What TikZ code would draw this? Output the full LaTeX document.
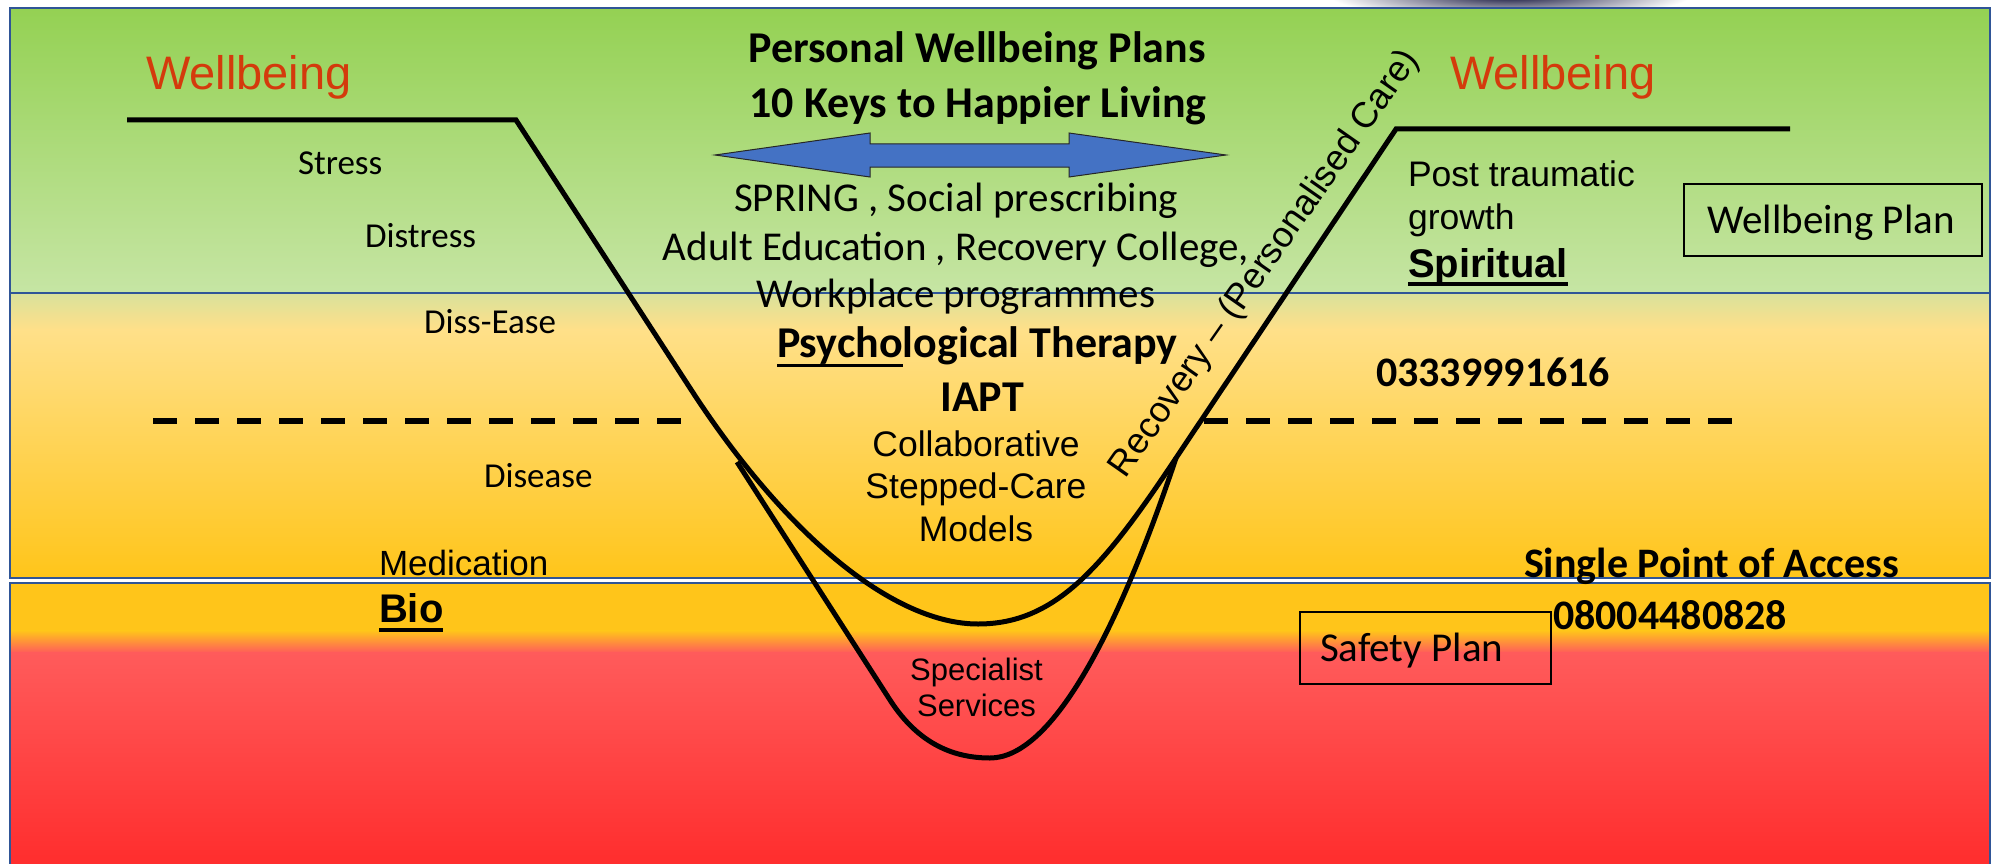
\documentclass[tikz,border=0pt]{standalone}
\usepackage{fontspec}
\setmainfont{Carlito}
\newfontfamily\arialf{Liberation Sans}
\definecolor{bandblue}{HTML}{2F5597}
\definecolor{gtop}{HTML}{94D153}
\definecolor{gbot}{HTML}{C6E5A4}
\definecolor{ytop}{HTML}{D9E19B}
\definecolor{ylight}{HTML}{FFE089}
\definecolor{ygold}{HTML}{FFC51A}
\definecolor{rsalmon}{HTML}{FF5B5B}
\definecolor{rred}{HTML}{FF2A2A}
\definecolor{wbred}{HTML}{D43A0C}
\definecolor{arrowblue}{HTML}{4472C4}
\definecolor{navy}{HTML}{14143C}
\newcommand{\myul}[3]{\setbox0=\hbox{#3}\rlap{\rule[#1]{\wd0}{#2}}\box0}
\begin{document}
\begin{tikzpicture}[x=1pt,y=-1pt,
  txt/.style={inner sep=0pt, outer sep=0pt, anchor=base west},
  ctxt/.style={inner sep=0pt, outer sep=0pt, anchor=base},
  cal/.style={font=\fontsize{#1}{#1}\selectfont},
  calb/.style={font=\bfseries\fontsize{#1}{#1}\selectfont},
  ari/.style={font=\arialf\fontsize{#1}{#1}\selectfont},
  arib/.style={font=\arialf\bfseries\fontsize{#1}{#1}\selectfont},
  band/.style={draw=bandblue, line width=2.5pt},
  curve/.style={draw=black, line width=5pt},
  dashline/.style={draw=black, line width=5.5pt, dash pattern=on 24pt off 18pt},
  plan/.style={draw=black, line width=2pt, inner sep=0pt}]
\useasboundingbox (0,0) rectangle (1997,864);
\clip (0,0) rectangle (1997,864);
\fill[white] (0,0) rectangle (1997,864);
% dark shape at top
\shade[inner color=navy, outer color=white] (1510,-4) ellipse [x radius=180, y radius=22];
% bands
\shade[top color=gtop, bottom color=gbot] (10,8) rectangle (1990,293);
\shade[top color=ytop, bottom color=ylight] (10,293) rectangle (1990,330);
\shade[top color=ylight, bottom color=ygold] (10,329.5) rectangle (1990,578);
\fill[ygold] (10,583) rectangle (1990,631);
\shade[top color=ygold, bottom color=rsalmon] (10,630.5) rectangle (1990,653);
\shade[top color=rsalmon, bottom color=rred] (10,652.5) rectangle (1990,880);
\draw[band] (10,8) rectangle (1990,293);
\draw[band] (10,293) rectangle (1990,578);
\draw[band] (10,583) rectangle (1990,880);
% dashed threshold
\coordinate (dl1) at (153,421);
\coordinate (dl2) at (681,421);
\coordinate (dr1) at (1204,421);
\coordinate (dr2) at (1732,421);
\draw[dashline] (dl1) -- (dl2);
\draw[dashline] (dr1) -- (dr2);
% curves
\coordinate (wl1) at (127,120);
\coordinate (wl2) at (516,120);
\coordinate (ls) at (690,388);
\coordinate (ob) at (978,624);
\coordinate (rs) at (1176,458);
\coordinate (wr1) at (1396,129);
\coordinate (wr2) at (1790,129);
\coordinate (is) at (737,462);
\coordinate (il) at (890,700);
\coordinate (ib) at (990,758);
\draw[curve] (wl1) -- (wl2) -- (ls) .. controls (787,538) and (895,624) .. (ob)
  .. controls (1055,624) and (1103,568) .. (rs) -- (wr1) -- (wr2);
\draw[curve, line join=round] (is) -- (il) .. controls (919,745) and (955,758) .. (ib)
  .. controls (1050,758) and (1115,640) .. (rs);
% double arrow
\draw[fill=arrowblue, draw=black!85, line width=1pt]
  (715,155) -- (870,133) -- (870,144) -- (1069,144) -- (1069,133) -- (1226,155)
  -- (1069,177) -- (1069,167) -- (870,167) -- (870,177) -- cycle;
% left texts
\node[txt, ari=47, text=wbred] (wbl) at (146,90) {Wellbeing};
\node[txt, cal=35] (stress) at (298,175) {Stress};
\node[txt, cal=35] (distress) at (365,247) {Distress};
\node[txt, cal=35] (disease1) at (424,333) {Diss-Ease};
\node[txt, cal=35] (disease2) at (484,487) {Disease};
\node[txt, ari=35] (med) at (379,575) {Medication};
\node[txt, arib=40] (bio) at (379,622) {\myul{-9.5pt}{4pt}{Bio}};
% centre texts
\node[ctxt, calb=44] (pwp) at (977,63) {Personal Wellbeing Plans};
\node[ctxt, calb=44] (keys) at (978,118) {10 Keys to Happier Living};
\node[ctxt, cal=41] (spring) at (956,211) {SPRING , Social prescribing};
\node[ctxt, cal=41] (adult) at (956,260) {Adult Education , Recovery College,};
\node[ctxt, cal=41] (work) at (956,307) {Workplace programmes};
\node[txt, calb=44] (psy) at (777,357) {\myul{-10pt}{3.5pt}{Psycho}logical Therapy};
\node[ctxt, calb=44] (iapt) at (982,411) {IAPT};
\node[ctxt, ari=35.5] (collab) at (976,456) {Collaborative};
\node[ctxt, ari=35.5] (stepped) at (976,498) {Stepped-Care};
\node[ctxt, ari=35.5] (models) at (976,541) {Models};
\node[ctxt, ari=31] (spec1) at (976.5,680) {Specialist};
\node[ctxt, ari=31] (spec2) at (976.5,716) {Services};
\node[ari=36, inner sep=0pt, rotate=55] (recov) at (1265,264) {Recovery – (Personalised Care)};
% right texts
\node[txt, ari=47, text=wbred] (wbr) at (1450,90) {Wellbeing};
\node[txt, ari=35.5] (post) at (1408,186) {Post traumatic};
\node[txt, ari=35.5] (growth) at (1408,229) {growth};
\node[txt, arib=40] (spirit) at (1408,277) {\myul{-9pt}{4pt}{Spiritual}};
\node[plan, minimum width=298pt, minimum height=72pt] (wplanbox) at (1833,220) {};
\node[ctxt, cal=41] (wplan) at (1831,233) {Wellbeing Plan};
\node[txt, calb=42] (num1) at (1376,386) {03339991616};
\node[txt, calb=42] (spoa) at (1524,577) {Single Point of Access};
\node[txt, calb=42] (num2) at (1553,629) {08004480828};
\node[plan, minimum width=251pt, minimum height=72pt] (splanbox) at (1425.5,648) {};
\node[txt, cal=41] (splan) at (1320,661) {Safety Plan};
\end{tikzpicture}
\end{document}
